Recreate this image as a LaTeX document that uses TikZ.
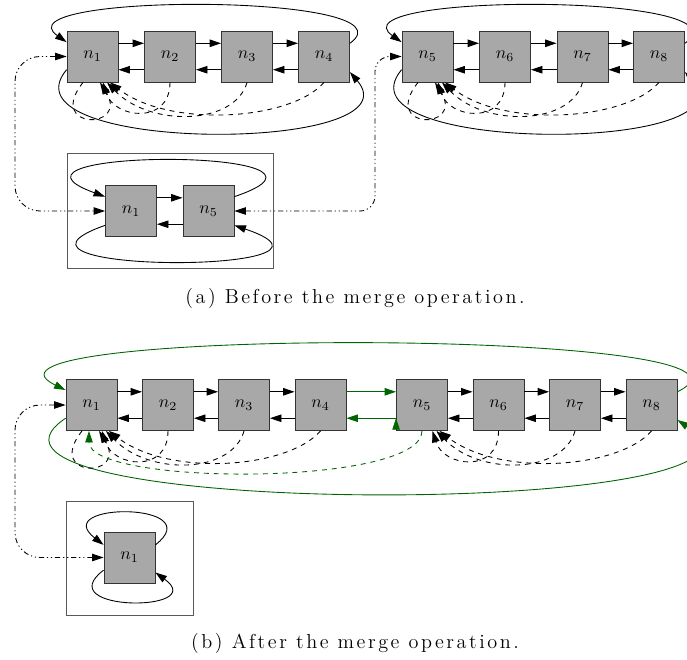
\documentclass[tikz,border=0pt]{standalone}
\usepackage{fontspec}
\setmainfont{Latin Modern Roman}
\usetikzlibrary{arrows.meta}
\definecolor{mgreen}{HTML}{006400}

\begin{document}
\begin{tikzpicture}[
  >={Triangle[length=2.3mm,width=1.5mm]},
  line width=0.5pt,
  box/.style={draw=black!80, fill=black!34, minimum size=1.02cm, inner sep=0pt},
  frame/.style={draw=black!65},
  ptr/.style={dash pattern=on 2.8pt off 2.8pt},
  hdl/.style={dash pattern=on 3pt off 1.6pt on 0.7pt off 1.6pt on 0.7pt off 1.6pt, rounded corners=0.5cm},
  merged/.style={draw=mgreen, color=mgreen},
  subcap/.style={font=\fontsize{11.5}{14}\selectfont\addfontfeature{LetterSpace=12.5}}
]
\useasboundingbox (0,0) rectangle (13.74,-13.18);

% (a) before
\node[box] (N1) at (1.85,-1.13) {$n_1$};
\node[box] (N2) at (3.40,-1.13) {$n_2$};
\node[box] (N3) at (4.94,-1.13) {$n_3$};
\node[box] (N4) at (6.48,-1.13) {$n_4$};
\node[box] (N5) at (8.55,-1.13) {$n_5$};
\node[box] (N6) at (10.10,-1.13) {$n_6$};
\node[box] (N7) at (11.65,-1.13) {$n_7$};
\node[box] (N8) at (13.18,-1.13) {$n_8$};

\path[->] (N1.27) edge (N2.153) (N2.27) edge (N3.153) (N3.27) edge (N4.153);
\path[->] (N2.207) edge (N1.333) (N3.207) edge (N2.333) (N4.207) edge (N3.333);
\path[->] (N5.27) edge (N6.153) (N6.27) edge (N7.153) (N7.27) edge (N8.153);
\path[->] (N6.207) edge (N5.333) (N7.207) edge (N6.333) (N8.207) edge (N7.333);

\draw[->] (N4.27) .. controls +(1.4,1.01) and +(-1.4,0.99) .. (N1.151);
\draw[->] (N1.207) .. controls +(-1.4,-1.68) and +(1.4,-1.64) .. (N4.329);
\draw[->] (N8.27) .. controls +(1.4,1.01) and +(-1.4,0.99) .. (N5.151);
\draw[->] (N5.207) .. controls +(-1.4,-1.68) and +(1.4,-1.64) .. (N8.329);

\draw[->,ptr] ([xshift=-1.9mm]N1.south) .. controls +(-0.76,-0.96) and +(0.6,-0.96) .. ([xshift=1.5mm]N1.south);
\draw[->,ptr] (N2.south) .. controls +(0,-0.86) and +(0.22,-0.72) .. ([xshift=2.1mm]N1.south);
\draw[->,ptr] (N3.south) .. controls +(-0.24,-0.86) and +(0.86,-0.9) .. ([xshift=2.9mm]N1.south);
\draw[->,ptr] (N4.south) .. controls +(-0.66,-0.76) and +(1.2,-0.92) .. ([xshift=3.5mm]N1.south);
\draw[->,ptr] ([xshift=-1.9mm]N5.south) .. controls +(-0.76,-0.96) and +(0.6,-0.96) .. ([xshift=1.5mm]N5.south);
\draw[->,ptr] (N6.south) .. controls +(0,-0.86) and +(0.22,-0.72) .. ([xshift=2.1mm]N5.south);
\draw[->,ptr] (N7.south) .. controls +(-0.24,-0.86) and +(0.86,-0.9) .. ([xshift=2.9mm]N5.south);
\draw[->,ptr] (N8.south) .. controls +(-0.66,-0.76) and +(1.2,-0.92) .. ([xshift=3.5mm]N5.south);

\draw[frame] (1.34,-3.06) rectangle (5.46,-5.36);
\node[box] (F1) at (2.62,-4.22) {$n_1$};
\node[box] (F5) at (4.17,-4.22) {$n_5$};
\path[->] (F1.27) edge (F5.153) (F5.207) edge (F1.333);
\draw[->] (F5.29) .. controls +(2.9,0.98) and +(-2.7,0.98) .. (F1.151);
\draw[->] (F1.209) .. controls +(-2.8,-0.98) and +(2.9,-0.98) .. (F5.331);

\draw[<->,hdl] (N1.west) -| (0.3,-3) |- (F1.west);
\draw[<->,hdl,rounded corners=0.3cm] (F5.east) -| (7.5,-3) |- (N5.west);

\node[subcap] (CA) at (7.1,-5.96) {(a)~Before the merge operation.};

% (b) after
\node[box] (M1) at (1.83,-8.10) {$n_1$};
\node[box] (M2) at (3.36,-8.10) {$n_2$};
\node[box] (M3) at (4.88,-8.10) {$n_3$};
\node[box] (M4) at (6.41,-8.10) {$n_4$};
\node[box] (M5) at (8.44,-8.10) {$n_5$};
\node[box] (M6) at (9.97,-8.10) {$n_6$};
\node[box] (M7) at (11.50,-8.10) {$n_7$};
\node[box] (M8) at (13.03,-8.10) {$n_8$};

\path[->] (M1.27) edge (M2.153) (M2.27) edge (M3.153) (M3.27) edge (M4.153);
\path[->] (M2.207) edge (M1.333) (M3.207) edge (M2.333) (M4.207) edge (M3.333);
\path[->] (M5.27) edge (M6.153) (M6.27) edge (M7.153) (M7.27) edge (M8.153);
\path[->] (M6.207) edge (M5.333) (M7.207) edge (M6.333) (M8.207) edge (M7.333);
\path[->,merged] (M4.27) edge (M5.153) (M5.207) edge (M4.333);

\draw[->,merged] (M8.27) .. controls +(2.6,1.28) and +(-2.6,1.26) .. (M1.150);
\draw[->,merged] (M1.207) .. controls +(-3.0,-2.02) and +(3.0,-1.98) .. (M8.330);

\draw[->,ptr] ([xshift=-1.9mm]M1.south) .. controls +(-0.76,-0.96) and +(0.6,-0.96) .. ([xshift=1.5mm]M1.south);
\draw[->,ptr] (M2.south) .. controls +(0,-0.86) and +(0.22,-0.72) .. ([xshift=2.1mm]M1.south);
\draw[->,ptr] (M3.south) .. controls +(-0.24,-0.86) and +(0.86,-0.9) .. ([xshift=2.9mm]M1.south);
\draw[->,ptr] (M4.south) .. controls +(-0.66,-0.76) and +(1.2,-0.92) .. ([xshift=3.5mm]M1.south);
\draw[->,ptr,merged] (M5.south) .. controls +(0,-1.12) and +(0,-1.1) .. ([xshift=-0.5mm]M1.south);
\draw[->,ptr] (M6.south) .. controls +(0,-0.86) and +(0.22,-0.72) .. ([xshift=2.1mm]M5.south);
\draw[->,ptr] (M7.south) .. controls +(-0.24,-0.86) and +(0.86,-0.9) .. ([xshift=2.9mm]M5.south);
\draw[->,ptr] (M8.south) .. controls +(-0.66,-0.76) and +(1.2,-0.92) .. ([xshift=3.5mm]M5.south);

\draw[frame] (1.32,-10.02) rectangle (3.86,-12.30);
\node[box] (G1) at (2.59,-11.15) {$n_1$};
\draw[->] (G1.26) .. controls +(1.1,0.86) and +(-1.1,0.86) .. (G1.154);
\draw[->] (G1.206) .. controls +(-1.1,-0.84) and +(1.1,-0.8) .. (G1.330);

\draw[<->,hdl] (M1.west) -| (0.3,-10) |- (G1.west);

\node[subcap] (CB) at (7.1,-12.86) {(b)~After the merge operation.};
\end{tikzpicture}
\end{document}
